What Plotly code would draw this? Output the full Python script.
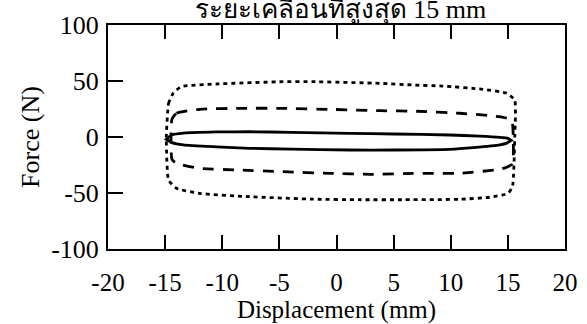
import plotly.graph_objects as go

# ---- data ----
title_text = "ระยะเคลื่อนที่สูงสุด 15 mm"
x_ticks = [-20, -15, -10, -5, 0, 5, 10, 15, 20]
y_ticks = [-100, -50, 0, 50, 100]

# solid loop (smallest)
solid_up_x = [-14.9, -14.4, -13.4, -10.5, -7.6, -4.0, 1.2, 5.0, 9.9, 12.5, 14.3, 15.0, 15.3]
solid_up_f = [-2.0, 2.0, 3.5, 4.5, 4.7, 4.2, 3.3, 2.7, 1.8, 0.8, -0.3, -1.2, -3.0]
solid_lo_x = [15.3, 14.9, 14.3, 12.0, 9.9, 5.0, 1.2, -4.0, -7.6, -10.5, -13.4, -14.4, -14.9]
solid_lo_f = [-3.0, -5.5, -7.1, -9.5, -11.0, -11.6, -11.6, -10.8, -10.1, -8.8, -7.1, -5.0, -2.0]

# dashed loop (middle)
dash_up_x = [-14.4, -14.0, -12.0, -8.5, -4.7, -0.6, 3.8, 7.0, 10.8, 13.5, 14.6, 15.2, 15.4]
dash_up_f = [16.0, 21.2, 24.7, 25.6, 25.6, 24.7, 23.5, 23.0, 21.2, 19.0, 17.6, 15.8, 12.0]
dash_lo_x = [15.4, 14.9, 14.3, 10.8, 6.7, 3.2, -0.6, -4.7, -8.5, -12.0, -14.0, -14.4]
dash_lo_f = [-24.0, -27.0, -28.8, -32.4, -32.4, -33.3, -32.4, -31.0, -29.5, -28.0, -23.5, -20.0]

# dotted loop (largest)
dot_up_x = [-14.9, -14.7, -14.3, -13.6, -10.5, -4.7, -2.1, 3.8, 6.7, 9.3, 12.8, 14.9, 15.6, 15.6]
dot_up_f = [0.0, 30.0, 39.0, 44.9, 47.3, 49.4, 49.4, 47.9, 46.4, 45.5, 42.6, 39.0, 33.0, 0.0]
dot_lo_x = [15.6, 15.4, 15.0, 13.4, 10.8, 6.0, 2.0, -2.0, -7.6, -12.0, -14.0, -14.7, -14.9]
dot_lo_f = [0.0, -44.4, -50.3, -53.8, -55.6, -56.0, -56.0, -55.5, -53.3, -50.3, -45.8, -38.4, 0.0]


def loop(ux, uf, lx, lf):
    xs = list(ux) + list(lx) + [ux[0]]
    ys = list(uf) + list(lf) + [uf[0]]
    return xs, ys


fig = go.Figure()
for (ux, uf, lx, lf), dash in [
    ((dot_up_x, dot_up_f, dot_lo_x, dot_lo_f), "4px,4px"),
    ((dash_up_x, dash_up_f, dash_lo_x, dash_lo_f), "11px,9px"),
    ((solid_up_x, solid_up_f, solid_lo_x, solid_lo_f), "solid"),
]:
    xs, ys = loop(ux, uf, lx, lf)
    fig.add_trace(go.Scatter(
        x=xs, y=ys, mode="lines",
        line=dict(color="black", width=2.8, dash=dash, shape="spline", smoothing=0.5),
        showlegend=False, hoverinfo="skip",
    ))

font_family = "Liberation Serif, Times New Roman, serif"

fig.update_layout(
    width=587, height=324,
    margin=dict(l=108, r=22, t=25, b=75, autoexpand=False),
    paper_bgcolor="white", plot_bgcolor="white",
    title=dict(
        text=title_text, x=0.58, xanchor="center",
        y=0.973, yanchor="middle", yref="container", automargin=False,
        font=dict(family=font_family, size=26, color="black"),
    ),
    xaxis=dict(
        range=[-20, 20], tickmode="array", tickvals=x_ticks,
        ticktext=[str(v) for v in x_ticks],
        showgrid=False, zeroline=False, automargin=True,
        showline=True, linecolor="black", linewidth=2, mirror="ticks",
        ticks="inside", ticklen=14, tickwidth=2, tickcolor="black",
        ticklabelstandoff=10,
        tickfont=dict(family=font_family, size=25, color="black"),
        title=dict(text="Displacement (mm)", standoff=2,
                   font=dict(family=font_family, size=25, color="black")),
    ),
    yaxis=dict(
        range=[-100, 100], tickmode="array", tickvals=y_ticks,
        ticktext=[str(v) for v in y_ticks],
        showgrid=False, zeroline=False, automargin=True,
        showline=True, linecolor="black", linewidth=2, mirror=True,
        ticks="inside", ticklen=15, tickwidth=2, tickcolor="black",
        ticklabelstandoff=2,
        tickfont=dict(family=font_family, size=26, color="black"),
        title=dict(text="Force (N)", standoff=4,
                   font=dict(family=font_family, size=26, color="black")),
    ),
)

fig.write_html("out.html")
